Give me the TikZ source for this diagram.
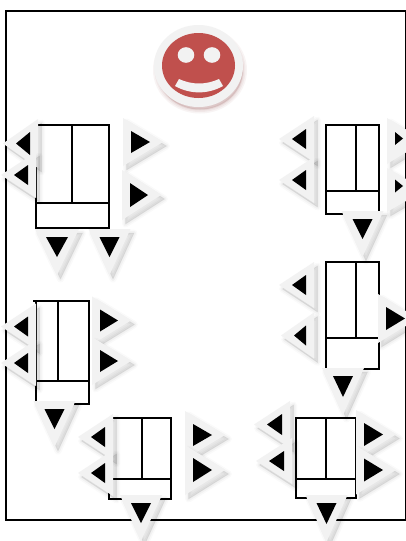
\documentclass[tikz,border=0pt]{standalone}
\definecolor{palegray}{HTML}{F2F2F2}
\definecolor{facered}{HTML}{C0504D}
\tikzset{
  framebox/.style={draw=black,line width=1.4pt},
  unitbox/.style={draw=black,fill=white,line width=1.4pt},
  halo/.style={fill=palegray},
  core/.style={fill=black},
}
% horizontal triangle, explicit: outer back, outer point, outer mid, outer half height, inner back, inner point, inner mid, inner half height
\newcommand\htrix[8]{%
  \foreach \w/\o in {7/0.02,4/0.03,1/0.04}{
    \draw[black,opacity=\o,line width=\w pt,line join=round,fill=black,shift={(3.5,4)}]
      (#1,#3-#4) -- (#2,#3) -- (#1,#3+#4) -- cycle;}
  \fill[halo] (#1,#3-#4) -- (#2,#3) -- (#1,#3+#4) -- cycle;
  \fill[core] (#5,#7-#8) -- (#6,#7) -- (#5,#7+#8) -- cycle;
}
% left / right / down triangles from the inner triangle only
\newcommand\ltri[4]{\pgfmathsetmacro\oa{#1+8}\pgfmathsetmacro\ob{#2-13}\pgfmathsetmacro\oh{#4+13}\htrix{\oa}{\ob}{#3}{\oh}{#1}{#2}{#3}{#4}}
\newcommand\rtri[4]{\pgfmathsetmacro\oa{#1-8}\pgfmathsetmacro\ob{#2+13}\pgfmathsetmacro\oh{#4+13}\htrix{\oa}{\ob}{#3}{\oh}{#1}{#2}{#3}{#4}}
\newcommand\dtri[4]{%
  \pgfmathsetmacro\oa{#1-8}\pgfmathsetmacro\ob{#2+18}\pgfmathsetmacro\oh{#4+11}
  \foreach \w/\o in {7/0.02,4/0.03,1/0.04}{
    \draw[black,opacity=\o,line width=\w pt,line join=round,fill=black,shift={(3.5,4)}]
      (#3-\oh,\oa) -- (#3,\ob) -- (#3+\oh,\oa) -- cycle;}
  \fill[halo] (#3-\oh,\oa) -- (#3,\ob) -- (#3+\oh,\oa) -- cycle;
  \fill[core] (#3-#4,#1) -- (#3,#2) -- (#3+#4,#1) -- cycle;
}
\newcommand\unit[6]{%
  \draw[unitbox] (#1,#2) rectangle (#3,#4);
  \draw[unitbox] (#5,#2) -- (#5,#6);
  \draw[unitbox] (#1,#6) -- (#3,#6);
}
\begin{document}
\begin{tikzpicture}[x=1pt,y=-1pt]
\useasboundingbox (0,0) rectangle (406,541);
\clip (0,0) rectangle (406,541);
\fill[white] (0,0) rectangle (406,541);
\draw[framebox] (6,11) rectangle (406,520);
% units
\unit{36}{125}{109}{228}{72}{203}
\unit{326}{125}{379}{214}{356}{191}
\unit{326}{262}{379}{369}{356}{338}
\unit{36}{301}{89}{404}{58}{381}
\draw[unitbox] (33,301) -- (36,301);
\unit{109}{418}{171}{499}{142}{479}
\unit{296}{418}{356}{498}{326}{479}
% smiley
\foreach \w/\o in {8/0.05,5/0.06,2/0.08}{
  \draw[facered!70!black,opacity=\o,line width=\w pt,fill=facered!70!black] (200,70) ellipse (43 and 39.5);}
\fill[palegray] (198.5,66) ellipse (44.5 and 41);
\fill[facered] (198.5,65.5) ellipse (36.5 and 32.5);
\fill[palegray] (186,55) ellipse (8.3 and 7.8);
\fill[palegray] (212,55) ellipse (8.3 and 7.8);
\fill[palegray] (179,79) .. controls (192,85) and (206,85) .. (219,79)
  -- (223,86) .. controls (208,94.5) and (190,94.5) .. (175,86) -- cycle;
% unit A
\ltri{30}{16}{143.5}{11.5}
\ltri{28}{14}{175}{10}
\rtri{131}{150}{142}{11}
\rtri{130}{148}{195}{12}
\dtri{237}{257}{57}{11}
\dtri{237}{257}{109.5}{10}
% unit B
\ltri{306}{292}{139}{10}
\ltri{306}{292}{180}{10}
\htrix{387}{425}{141}{23}{395}{403}{138.5}{6.5}
\htrix{387}{425}{190}{22}{395}{403}{186}{6.5}
\dtri{219}{239}{362.5}{10}
% unit C
\ltri{306}{292}{285}{10}
\ltri{306}{294}{335.5}{10}
\rtri{386}{405}{318.5}{11.5}
\dtri{376}{397}{343}{10}
% unit D
\ltri{28}{14}{326.5}{10}
\ltri{28}{14}{363}{10}
\rtri{100}{118}{320.5}{11}
\rtri{100}{118}{361}{11}
\dtri{409}{429}{54.5}{10}
% unit E
\ltri{105}{91}{437}{10}
\ltri{105}{91}{473}{10}
\rtri{193}{212}{435}{11}
\rtri{193}{212}{470}{12}
\dtri{503}{523}{141}{10}
% unit F
\ltri{282}{267}{424.5}{10.5}
\ltri{284}{269}{461}{10}
\rtri{364}{383}{434.5}{11.5}
\rtri{364}{383}{470}{11.5}
\dtri{503}{524}{326.5}{10}
\end{tikzpicture}
\end{document}
